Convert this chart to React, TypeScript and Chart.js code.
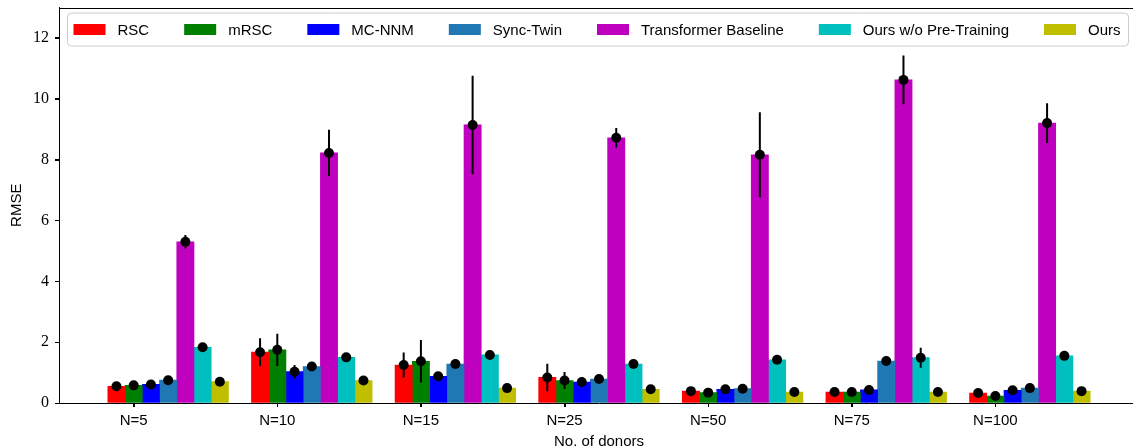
import React, { useEffect, useRef } from 'react';
import { Chart, registerables } from 'chart.js';

Chart.register(...registerables);

const groups = ['N=5', 'N=10', 'N=15', 'N=25', 'N=50', 'N=75', 'N=100'];
const seriesNames = ['RSC', 'mRSC', 'MC-NNM', 'Sync-Twin', 'Transformer Baseline', 'Ours w/o Pre-Training', 'Ours'];
const seriesColors = ['#ff0000', '#008000', '#0000ff', '#1f77b4', '#bf00bf', '#00bfbf', '#bfbf00'];

const rsc = [0.55, 1.67, 1.25, 0.84, 0.39, 0.36, 0.33];
const rscErr = [0.05, 0.46, 0.41, 0.45, 0.04, 0.04, 0.03];
const mrsc = [0.58, 1.75, 1.37, 0.74, 0.34, 0.36, 0.23];
const mrscErr = [0.05, 0.53, 0.7, 0.28, 0.04, 0.04, 0.03];
const mcnnm = [0.61, 1.03, 0.88, 0.69, 0.45, 0.43, 0.42];
const mcnnmErr = [0.05, 0.22, 0.06, 0.05, 0.04, 0.04, 0.03];
const syncTwin = [0.75, 1.2, 1.28, 0.79, 0.47, 1.38, 0.49];
const syncTwinErr = [0.05, 0.06, 0.06, 0.05, 0.04, 0.05, 0.03];
const transformer = [5.3, 8.22, 9.14, 8.72, 8.16, 10.62, 9.2];
const transformerErr = [0.22, 0.76, 1.62, 0.32, 1.4, 0.8, 0.65];
const oursNoPT = [1.83, 1.5, 1.58, 1.28, 1.42, 1.49, 1.55];
const oursNoPTErr = [0.05, 0.06, 0.06, 0.05, 0.05, 0.33, 0.05];
const ours = [0.7, 0.74, 0.49, 0.45, 0.36, 0.36, 0.39];
const oursErr = [0.05, 0.05, 0.04, 0.04, 0.03, 0.03, 0.03];

const seriesValues = [rsc, mrsc, mcnnm, syncTwin, transformer, oursNoPT, ours];
const seriesErrors = [rscErr, mrscErr, mcnnmErr, syncTwinErr, transformerErr, oursNoPTErr, oursErr];

const yTicks = [0, 2, 4, 6, 8, 10, 12];
const barWidth = 0.12;

const SANS = "'Liberation Sans', 'DejaVu Sans', sans-serif";
const SERIF = "'Liberation Serif', 'DejaVu Serif', serif";

const errorBarPlugin = {
  id: 'errorBars',
  afterDatasetsDraw(chart: any) {
    const ctx = chart.ctx;
    const yScale = chart.scales.y;
    const xScale = chart.scales.x;
    const area = chart.chartArea;
    ctx.save();
    ctx.beginPath();
    ctx.rect(area.left, area.top, area.right - area.left, area.bottom - area.top + 6);
    ctx.clip();
    chart.data.datasets.forEach((ds: any, i: number) => {
      const meta = chart.getDatasetMeta(i);
      meta.data.forEach((el: any, j: number) => {
        const v = seriesValues[i][j];
        const e = seriesErrors[i][j];
        const x = el.x;
        const yTop = yScale.getPixelForValue(v + e);
        const yBot = yScale.getPixelForValue(v - e);
        ctx.strokeStyle = '#000';
        ctx.lineWidth = 2;
        ctx.beginPath();
        ctx.moveTo(x, yTop);
        ctx.lineTo(x, yBot);
        ctx.stroke();
        ctx.fillStyle = '#000';
        ctx.beginPath();
        ctx.arc(x, yScale.getPixelForValue(v), 5, 0, Math.PI * 2);
        ctx.fill();
      });
    });
    ctx.restore();
    // spines and tick marks
    ctx.save();
    ctx.strokeStyle = '#000';
    ctx.lineWidth = 1;
    ctx.beginPath();
    ctx.moveTo(area.left, Math.round(area.top) + 0.5);
    ctx.lineTo(area.right, Math.round(area.top) + 0.5);
    const bottom = Math.round(area.bottom);
    groups.forEach((_, g) => {
      const px = Math.round(xScale.getPixelForValue(g)) + 0.5;
      ctx.moveTo(px, bottom);
      ctx.lineTo(px, bottom + 4);
    });
    const left = Math.round(area.left);
    yTicks.forEach((v) => {
      const py = Math.round(yScale.getPixelForValue(v)) + 0.5;
      ctx.moveTo(left - 4, py);
      ctx.lineTo(left, py);
    });
    ctx.stroke();
    ctx.restore();
  },
};

const legendPlugin = {
  id: 'boxLegend',
  afterDraw(chart: any) {
    const ctx = chart.ctx;
    const area = chart.chartArea;
    const boxL = area.left + 8.5;
    const boxR = area.right - 10.5;
    const boxT = area.top + 5.5;
    const boxH = 33;
    ctx.save();
    ctx.fillStyle = 'rgba(255,255,255,0.8)';
    ctx.strokeStyle = '#cccccc';
    ctx.lineWidth = 1;
    ctx.beginPath();
    ctx.roundRect(boxL, boxT, boxR - boxL, boxH, 4);
    ctx.fill();
    ctx.stroke();
    ctx.font = `15px ${SANS}`;
    ctx.textBaseline = 'middle';
    ctx.textAlign = 'left';
    const patchW = 32;
    const patchH = 11;
    const gap = 12;
    const ds = chart.data.datasets;
    const widths = ds.map((d: any) => patchW + gap + ctx.measureText(d.label).width);
    const total = widths.reduce((a: number, b: number) => a + b, 0);
    const innerL = boxL + 6;
    const innerR = boxR - 8;
    const sep = (innerR - innerL - total) / (ds.length - 1);
    const cy = boxT + boxH / 2;
    let x = innerL;
    ds.forEach((d: any, i: number) => {
      ctx.fillStyle = d.backgroundColor;
      ctx.fillRect(x, cy - patchH / 2, patchW, patchH);
      ctx.fillStyle = '#000';
      ctx.fillText(d.label, x + patchW + gap, cy + 1);
      x += widths[i] + sep;
    });
    ctx.restore();
  },
};

export default function App() {
  const canvasRef = useRef<HTMLCanvasElement | null>(null);

  useEffect(() => {
    const canvas = canvasRef.current;
    if (!canvas) return;
    const datasets = seriesNames.map((name, i) => ({
      label: name,
      data: seriesValues[i].map((v, g) => ({ x: g + (i - 1) * barWidth, y: v })),
      backgroundColor: seriesColors[i],
      borderWidth: 0,
      grouped: false,
      barPercentage: 1,
      categoryPercentage: 1,
    }));
    const chart = new Chart(canvas, {
      type: 'bar',
      data: { datasets },
      options: {
        responsive: false,
        animation: false,
        devicePixelRatio: 1,
        layout: { padding: { top: 7.5, right: 0, left: 0, bottom: 0 } },
        plugins: {
          legend: { display: false },
          tooltip: { enabled: false },
        },
        scales: {
          x: {
            type: 'linear',
            offset: false,
            min: -0.52,
            max: 7.0,
            afterBuildTicks: (scale: any) => {
              scale.ticks = groups.map((_, g) => ({ value: g }));
            },
            afterFit: (scale: any) => {
              scale.height = 43;
              scale.paddingLeft = 0;
              scale.paddingRight = 0;
            },
            ticks: {
              callback: (value: any) => groups[Math.round(Number(value))] ?? '',
              font: { family: SANS, size: 15 },
              color: '#000',
              padding: 5,
              maxRotation: 0,
              autoSkip: false,
            },
            grid: {
              offset: false,
              drawOnChartArea: false,
              drawTicks: true,
              tickLength: 4,
              tickWidth: 1,
              tickColor: '#000',
              color: '#000',
            },
            border: { display: true, color: '#000', width: 1 },
            title: {
              display: true,
              text: 'No. of donors',
              font: { family: SANS, size: 15 },
              color: '#000',
              padding: { top: 0, bottom: -5 },
            },
          },
          y: {
            type: 'linear',
            min: 0,
            max: 13,
            afterBuildTicks: (scale: any) => {
              scale.ticks = yTicks.map((v) => ({ value: v }));
            },
            afterFit: (scale: any) => {
              scale.width = 59;
              scale.paddingTop = 0;
              scale.paddingBottom = 0;
            },
            ticks: {
              font: { family: SERIF, size: 16 },
              color: '#000',
              padding: 6,
              callback: (value: any) => String(value),
            },
            grid: {
              drawOnChartArea: false,
              drawTicks: true,
              tickLength: 4,
              tickWidth: 1,
              tickColor: '#000',
              color: '#000',
            },
            border: { display: true, color: '#000', width: 1 },
            title: {
              display: true,
              text: 'RMSE',
              font: { family: SANS, size: 15 },
              color: '#000',
              padding: { top: 8, bottom: 0 },
            },
          },
        },
      },
      plugins: [errorBarPlugin, legendPlugin],
    } as any);
    return () => chart.destroy();
  }, []);

  return (
    <div
      style={{
        position: 'fixed',
        left: 0,
        top: 0,
        width: 1133,
        height: 446,
        overflow: 'hidden',
        background: '#fff',
      }}
    >
      <canvas ref={canvasRef} width={1139} height={446} style={{ display: 'block', width: 1139, height: 446 }} />
    </div>
  );
}
